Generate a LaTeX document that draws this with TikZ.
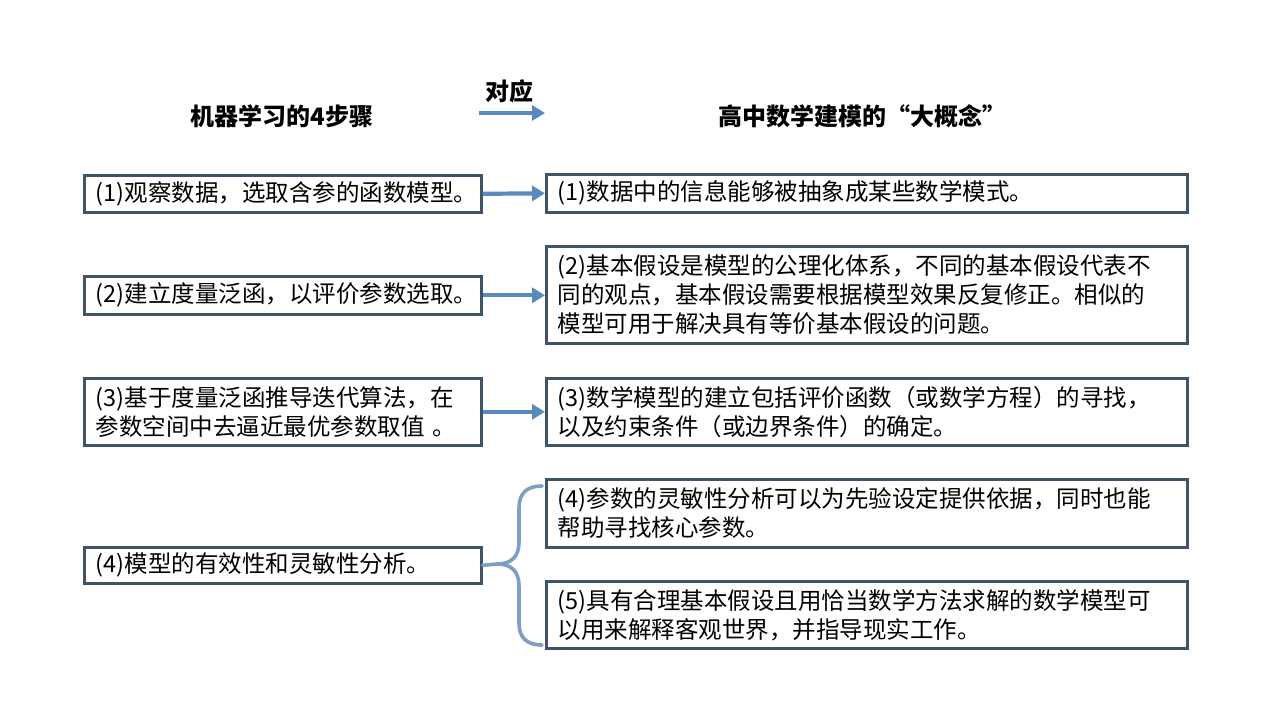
\documentclass[tikz,border=0pt]{standalone}
\usepackage{fontspec}
\setmainfont{Noto Sans CJK SC}
\usetikzlibrary{arrows.meta}
\definecolor{boxline}{HTML}{3F5468}
\definecolor{arrowblue}{HTML}{5A89BD}
\definecolor{braceblue}{HTML}{7D9FC3}
\begin{document}
\begin{tikzpicture}[x=1pt,y=-1pt,
  cbox/.style={draw=boxline, line width=2.6pt, fill=white, anchor=north west,
    inner xsep=10pt, inner ysep=0pt, align=left,
    font=\fontsize{23.5}{29}\selectfont},
  head/.style={font=\fontsize{24}{28}\selectfont\bfseries},
  arr/.style={draw=arrowblue, line width=4.2pt, -{Triangle[length=13pt,width=15pt]}},
  bracestyle/.style={draw=braceblue, line width=3.6pt, line cap=round}]
\useasboundingbox (0,0) rectangle (1280,720);
% headers
\node[head] (h1) at (282,116) {机器学习的4步骤};
\node[head] (h2) at (862,116) {高中数学建模的“大概念”};
\node[head] (dy) at (509,91) {对应};
\coordinate (ha) at (479,113);
\coordinate (hb) at (545,113);
\draw[arr] (ha) -- (hb);
% left boxes
\node[cbox, minimum width=397pt, minimum height=37pt, text width=374pt] (l1) at (83,174) {(1)观察数据，选取含参的函数模型。};
\node[cbox, minimum width=397pt, minimum height=38pt, text width=374pt] (l2) at (83,275) {(2)建立度量泛函，以评价参数选取。};
\node[cbox, minimum width=397pt, minimum height=67pt, text width=374pt] (l3) at (83,377) {(3)基于度量泛函推导迭代算法，在\\参数空间中去逼近最优参数取值 。};
\node[cbox, minimum width=397pt, minimum height=36pt, text width=374pt] (l4) at (83,546) {(4)模型的有效性和灵敏性分析。};
% right boxes
\node[cbox, minimum width=641pt, minimum height=38pt, text width=618pt] (r1) at (545,173) {(1)数据中的信息能够被抽象成某些数学模式。};
\node[cbox, minimum width=641pt, minimum height=97pt, text width=618pt] (r2) at (545,245) {(2)基本假设是模型的公理化体系，不同的基本假设代表不\\同的观点，基本假设需要根据模型效果反复修正。相似的\\模型可用于解决具有等价基本假设的问题。};
\node[cbox, minimum width=641pt, minimum height=67pt, text width=618pt] (r3) at (545,377) {(3)数学模型的建立包括评价函数（或数学方程）的寻找，\\以及约束条件（或边界条件）的确定。};
\node[cbox, minimum width=641pt, minimum height=68pt, text width=618pt] (r4) at (545,478) {(4)参数的灵敏性分析可以为先验设定提供依据，同时也能\\帮助寻找核心参数。};
\node[cbox, minimum width=641pt, minimum height=67pt, text width=618pt] (r5) at (545,580) {(5)具有合理基本假设且用恰当数学方法求解的数学模型可\\以用来解释客观世界，并指导现实工作。};
% arrows
\draw[arr] (l1.east) -- (r1.west);
\draw[arr] (l2.east) -- (r2.west |- l2.east);
\draw[arr] (l3.east) -- (r3.west);
% brace
\coordinate (bt) at (542,486);
\coordinate (bb) at (542,645);
\draw[bracestyle] (l4.east) -- (497,564)
  .. controls (512,564) and (519,556) .. (519,542) -- (519,508)
  .. controls (519,494) and (526,486) .. (bt);
\draw[bracestyle] (497,564)
  .. controls (512,564) and (519,572) .. (519,586) -- (519,623)
  .. controls (519,637) and (526,645) .. (bb);
\end{tikzpicture}
\end{document}
